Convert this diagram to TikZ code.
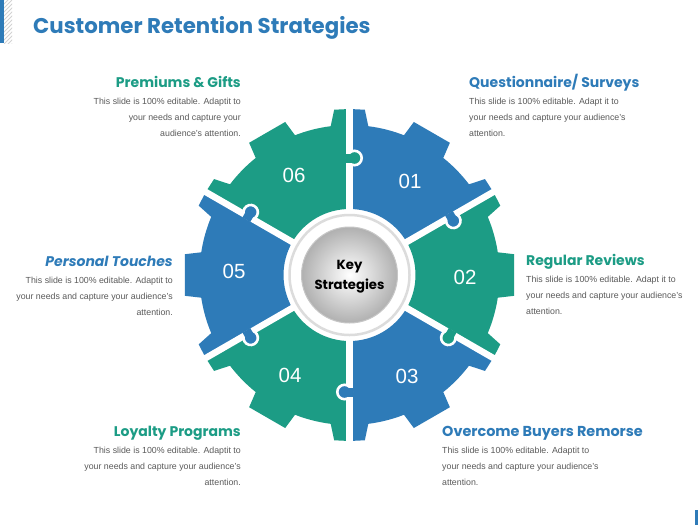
\documentclass[tikz,border=0pt]{standalone}
\usepackage{fontspec}
\setmainfont{Liberation Sans}
\newfontfamily\headfont{Poppins}
\definecolor{blueP}{HTML}{2E7BB8}
\definecolor{tealP}{HTML}{1C9C85}
\definecolor{txtgray}{HTML}{5A5A5A}
\definecolor{ringgray}{HTML}{DCDCDC}

% gear piece: start angle, colour
\newcommand\gearpiece[2]{%
 \fill[#2] ({#1}:66) -- ({#1}:166) -- ({#1+5.3}:166) -- ({#1+7.2}:150)
   arc[start angle={#1+7.2}, end angle={#1+21.3}, radius=150]
   -- ({#1+22.8}:166) -- ({#1+37.2}:166) -- ({#1+38.7}:150)
   arc[start angle={#1+38.7}, end angle={#1+52.8}, radius=150]
   -- ({#1+54.7}:166) -- ({#1+60}:166) -- ({#1+60}:66)
   arc[start angle={#1+60}, end angle={#1}, radius=66] -- cycle;}

% puzzle knob: gap angle, side (1 = ccw, -1 = cw), colour
\newcommand\knob[3]{%
 \begin{scope}[rotate=#1, yscale=#2]
  \fill[#3, draw=white, line width=2.6pt] (117,5) circle[radius=7.2];
  \fill[#3] (112.5,-3.7) rectangle (121.5,3);
 \end{scope}}

% text block
\newcommand\tblock[9]{%
 \node[head, #5, anchor=base #2] (#1-t) at (#3,#4) {#6};
 \node[body, anchor=base #2] (#1-a) at (#3,#4+17) {#7};
 \node[body, anchor=base #2] (#1-b) at (#3,#4+33) {#8};
 \node[body, anchor=base #2] (#1-c) at (#3,#4+49) {#9};}

\begin{document}
\begin{tikzpicture}[x=1pt,y=-1pt,
  body/.style={font=\fontsize{8.8}{10}\selectfont, text=txtgray, inner sep=0pt},
  head/.style={font=\headfont\bfseries\fontsize{14}{16}\selectfont, inner sep=0pt},
  num/.style={font=\fontsize{20.5}{22}\selectfont, text=white, inner sep=0pt},
  keytxt/.style={font=\headfont\bfseries\fontsize{13.2}{15}\selectfont, text=black, inner sep=0pt}]
\useasboundingbox (0,0) rectangle (700,525);
\fill[white] (0,0) rectangle (700,525);

% corner decorations
\fill[blueP] (0,0) rectangle (4,43);
\begin{scope}
 \clip (4,0) rectangle (12,43);
 \foreach \k in {0,...,16} \draw[gray!35, line width=1pt] (0,4*\k) -- (16,4*\k-16);
\end{scope}
\fill[blueP] (695,510) rectangle (697.5,525);

% title
\node[font=\headfont\bfseries\fontsize{21.3}{24}\selectfont, text=blueP, anchor=base west, inner sep=0pt]
  (title) at (33,33) {Customer Retention Strategies};

% gear
\begin{scope}[shift={(349.5,275)}, y={(0,1pt)}]
 \gearpiece{30}{blueP}
 \gearpiece{-30}{tealP}
 \gearpiece{-90}{blueP}
 \gearpiece{-150}{tealP}
 \gearpiece{150}{blueP}
 \gearpiece{90}{tealP}
 \foreach \a in {90,30,-30,-90,-150,150}
   \draw[white, line width=6.5pt] (\a:56) -- (\a:175);
 \knob{90}{-1}{tealP}
 \knob{30}{-1}{blueP}
 \knob{-30}{-1}{tealP}
 \knob{-90}{-1}{blueP}
 \knob{-150}{1}{blueP}
 \knob{150}{-1}{blueP}
 % centre
 \fill[white] (0,0) circle[radius=63];
 \draw[ringgray, line width=2.5pt] (0,0) circle[radius=60];
 \shade[inner color=white, outer color=gray!62] (0,0) circle[radius=48];
 \draw[gray!45, line width=1pt] (0,0) circle[radius=48];
\end{scope}

\node[keytxt] (key1) at (349.5,267) {Key};
\node[keytxt] (key2) at (349.5,286) {Strategies};

% numbers
\node[num] (n01) at (410,181) {01};
\node[num] (n02) at (465,277) {02};
\node[num] (n03) at (407,376) {03};
\node[num] (n04) at (290,375) {04};
\node[num] (n05) at (234,271) {05};
\node[num] (n06) at (294,175) {06};

% text blocks
\tblock{pg}{east}{241}{87}{text=tealP}{Premiums \& Gifts}
  {This slide is 100\% editable. Adaptit to}{your needs and capture your}{audience's attention.}
\tblock{qs}{west}{469}{87}{text=blueP}{Questionnaire/ Surveys}
  {This slide is 100\% editable. Adapt it to}{your needs and capture your audience's}{attention.}
\tblock{pt}{east}{173}{266}{text=blueP, font=\headfont\bfseries\itshape\fontsize{14}{16}\selectfont}{Personal Touches}
  {This slide is 100\% editable. Adaptit to}{your needs and capture your audience's}{attention.}
\tblock{rr}{west}{526}{265}{text=tealP}{Regular Reviews}
  {This slide is 100\% editable. Adapt it to}{your needs and capture your audience's}{attention.}
\tblock{lp}{east}{241}{436}{text=tealP}{Loyalty Programs}
  {This slide is 100\% editable. Adaptit to}{your needs and capture your audience's}{attention.}
\tblock{ob}{west}{442}{436}{text=blueP, font=\headfont\bfseries\fontsize{14.4}{16}\selectfont}{Overcome Buyers Remorse}
  {This slide is 100\% editable. Adaptit to}{your needs and capture your audience's}{attention.}
\end{tikzpicture}
\end{document}
